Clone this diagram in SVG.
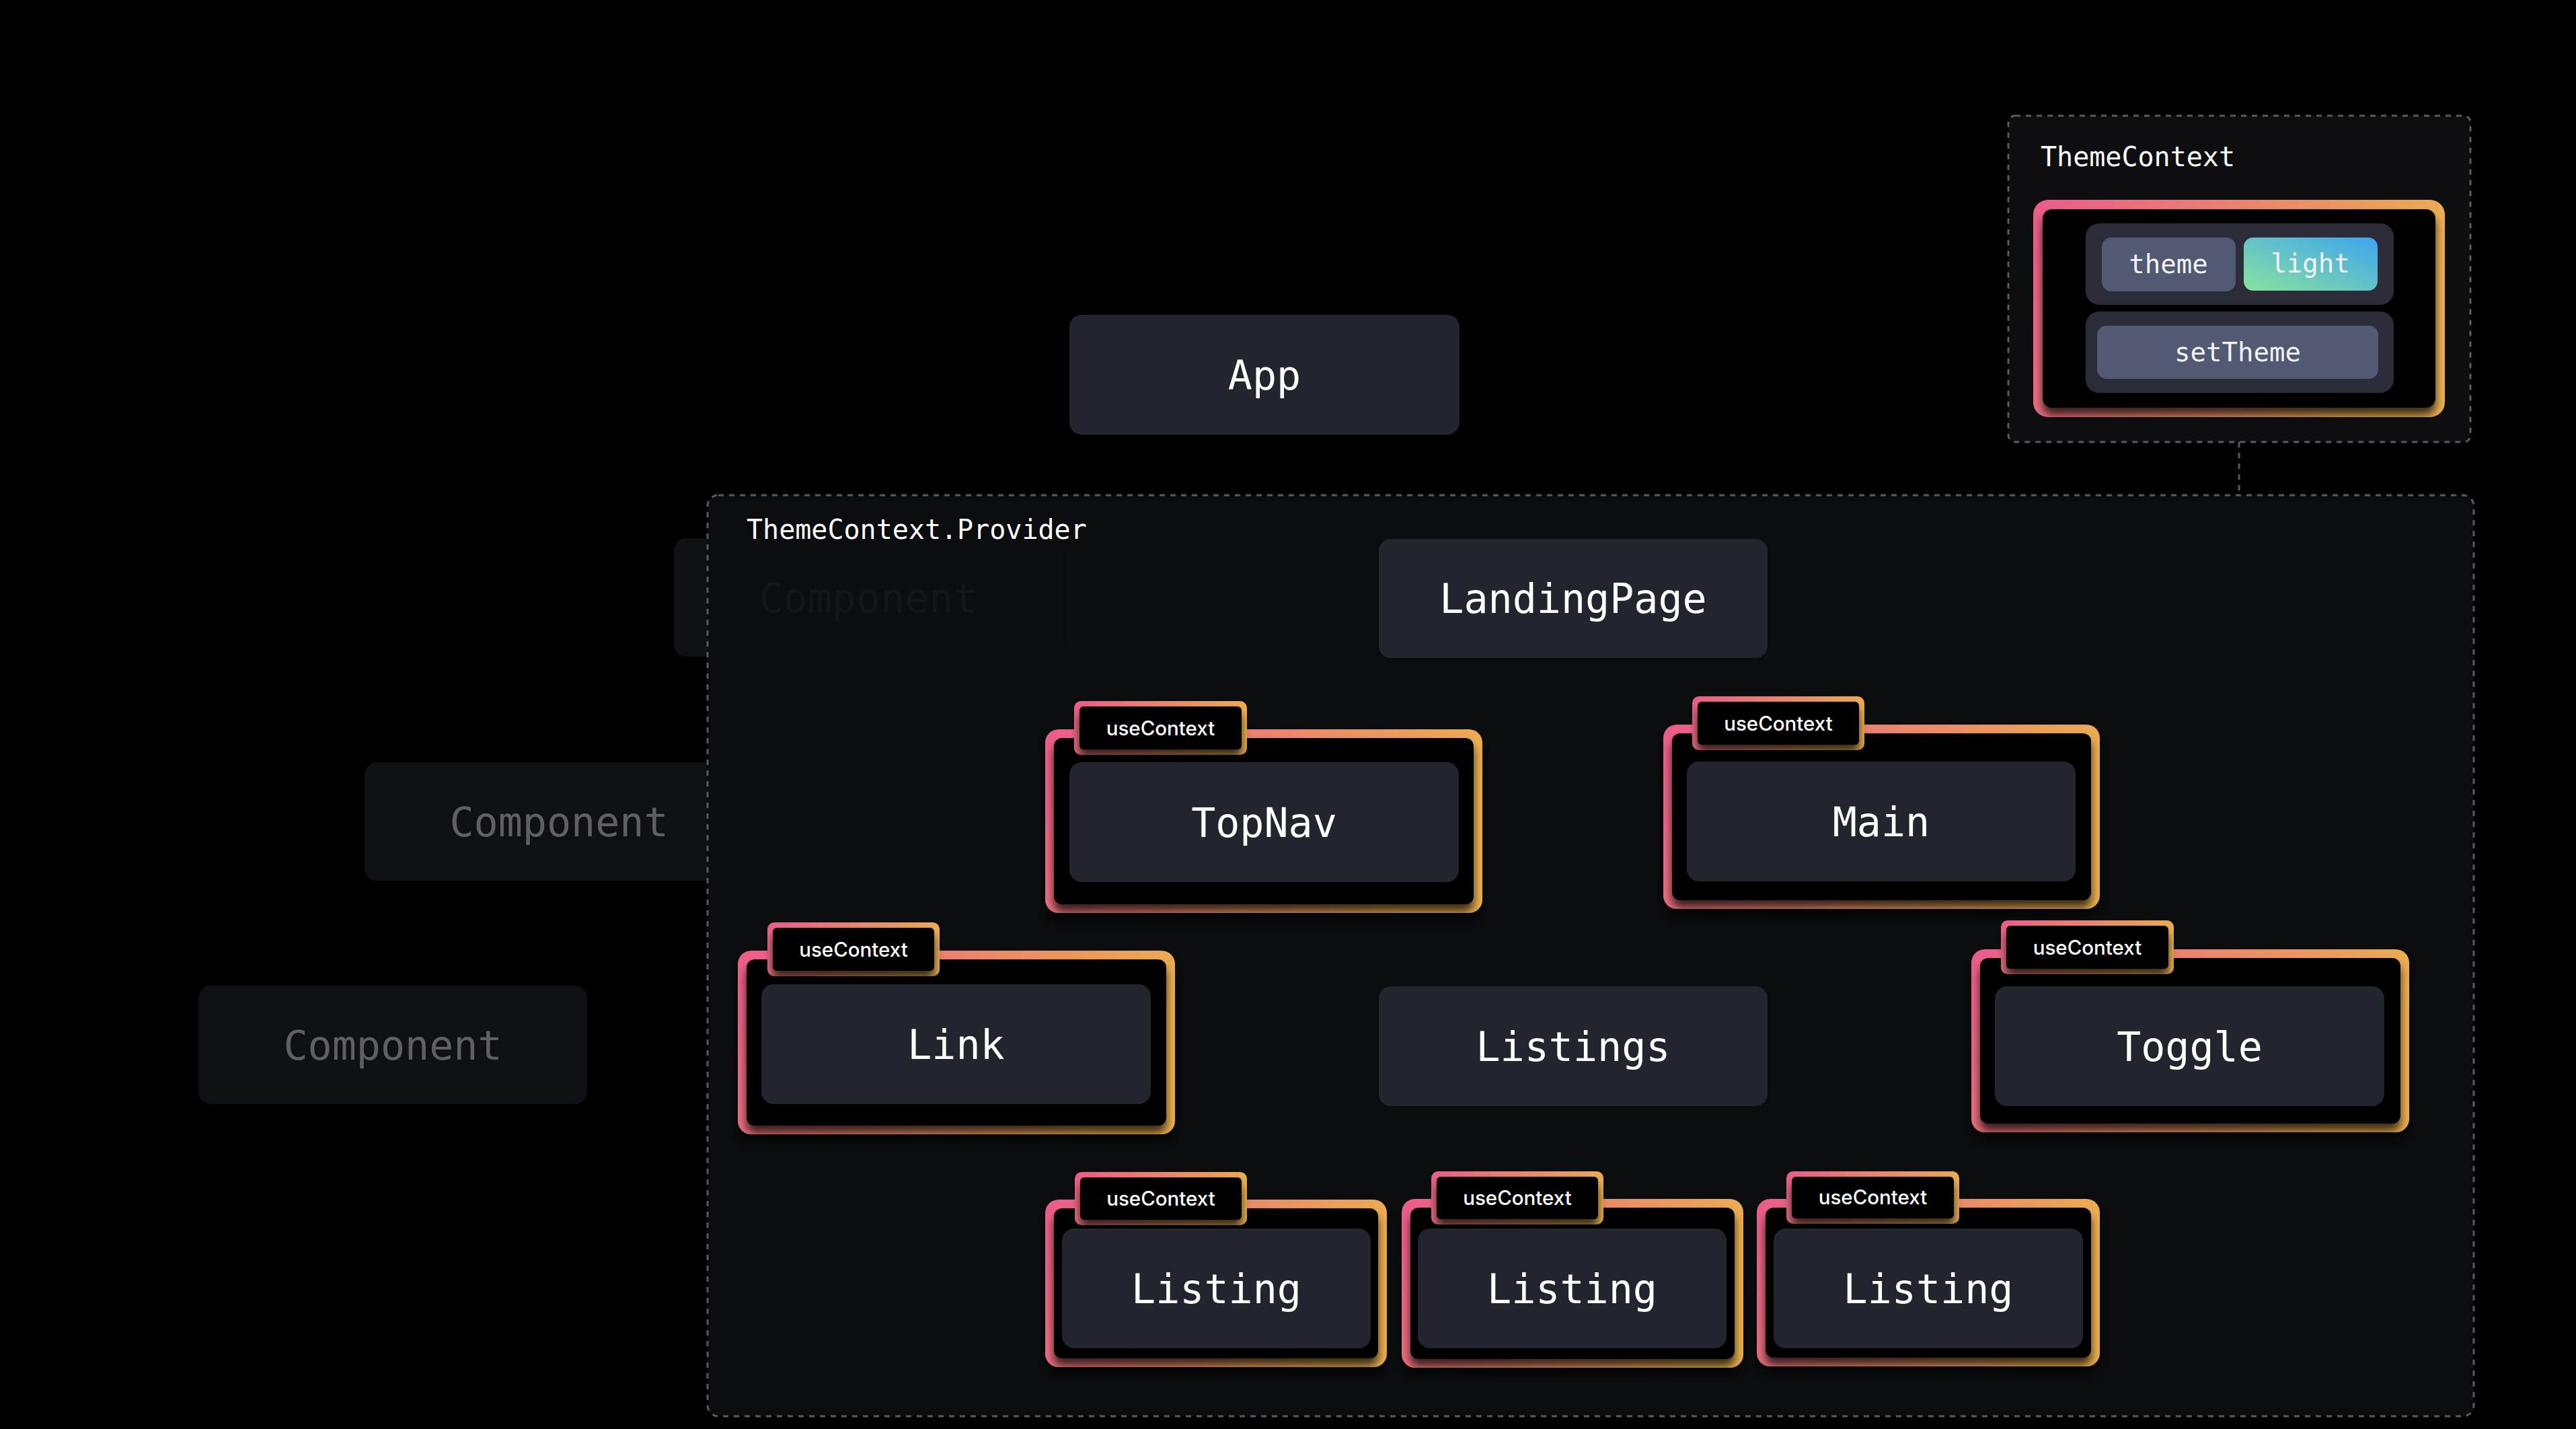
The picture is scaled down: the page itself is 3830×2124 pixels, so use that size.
<svg xmlns="http://www.w3.org/2000/svg" width="3830" height="2124" viewBox="0 0 3830 2124">
<defs>
<linearGradient id="gr" x1="0" y1="0" x2="1" y2="0.25">
<stop offset="0" stop-color="#ec5b8c"/>
<stop offset="1" stop-color="#ebb04e"/>
</linearGradient>
<linearGradient id="lg" x1="0" y1="1" x2="1" y2="0">
<stop offset="0" stop-color="#88e39c"/>
<stop offset="1" stop-color="#3fa4f0"/>
</linearGradient>
<filter id="ish" x="-10%" y="-10%" width="120%" height="140%">
<feDropShadow dx="0" dy="11" stdDeviation="7" flood-color="#000" flood-opacity="0.75"/>
</filter>
<filter id="osh" x="-10%" y="-10%" width="120%" height="130%">
<feDropShadow dx="0" dy="12" stdDeviation="8" flood-color="#000" flood-opacity="0.6"/>
</filter>
<style>
.node{fill:#23252e}
.lbl{font-family:"DejaVu Sans Mono",monospace;font-size:60px;fill:#ffffff;text-anchor:middle}
.comp{fill:#0f1013}
.ctext{font-family:"DejaVu Sans Mono",monospace;font-size:60px;fill:#606064;text-anchor:middle}
.fr{fill:url(#gr);filter:url(#osh)}
.frin{fill:#000;filter:url(#ish)}
.tb{fill:url(#gr)}
.tbin{fill:#000;filter:url(#ish)}
.tt{font-family:Inter,"Liberation Sans",sans-serif;font-size:29.5px;font-weight:500;fill:#ffffff;text-anchor:middle}
.dash{fill:none;stroke:#5a5a5e;stroke-width:3;stroke-dasharray:8 8}
.title{font-family:"DejaVu Sans Mono",monospace;font-size:40px;fill:#ffffff}
.pill{fill:#525a73}
.row{fill:#2a2c38}
.ptext{font-family:"DejaVu Sans Mono",monospace;font-size:39px;fill:#f4f4f6;text-anchor:middle}
</style>
</defs>
<rect x="0" y="0" width="3830" height="2124" fill="#000"/>

<g id="component-1">
<rect class="comp" x="1002" y="800" width="578" height="176" rx="18"/>
<text class="ctext" x="1291" y="910">Component</text>
</g>
<g id="component-2">
<rect class="comp" x="542" y="1133" width="578" height="176" rx="18"/>
<text class="ctext" x="831" y="1243">Component</text>
</g>
<g id="component-3">
<rect class="comp" x="295" y="1465" width="578" height="176" rx="18"/>
<text class="ctext" x="584" y="1575">Component</text>
</g>

<g id="app">
<rect class="node" x="1590" y="468" width="580" height="178" rx="18"/>
<text class="lbl" x="1880" y="579">App</text>
</g>

<g id="provider">
<rect x="1052" y="736" width="2626" height="1369" rx="16" fill="#0c0d10" fill-opacity="0.9"/>
<rect class="dash" x="1052" y="736" width="2626" height="1369" rx="16"/>
<text class="title" x="1110" y="801">ThemeContext.Provider</text>
</g>

<g id="themecontext">
<rect x="2986" y="172" width="687" height="485" rx="10" fill="#0e0e11"/>
<rect class="dash" x="2986" y="172" width="687" height="485" rx="10"/>
<text class="title" x="3034" y="247">ThemeContext</text>
<rect x="3023" y="297" width="612" height="323" rx="22" fill="url(#gr)"/>
<rect class="frin" x="3037" y="311" width="584" height="295" rx="14"/>
<rect class="row" x="3101" y="332" width="458" height="121" rx="20"/>
<rect class="row" x="3101" y="463" width="458" height="121" rx="20"/>
<rect class="pill" x="3125" y="353" width="199" height="80" rx="14"/>
<text class="ptext" x="3224" y="406">theme</text>
<rect x="3336" y="353" width="199" height="79" rx="14" fill="url(#lg)"/>
<text class="ptext" x="3435" y="405">light</text>
<rect class="pill" x="3118" y="484" width="418" height="79" rx="14"/>
<text class="ptext" x="3327" y="537">setTheme</text>
</g>

<g id="connectors">
<line class="dash" x1="3329" y1="657" x2="3329" y2="736"/>
</g>

<g id="landingpage">
<rect class="node" x="2050" y="801" width="578" height="177" rx="18"/>
<text class="lbl" x="2339" y="911">LandingPage</text>
</g>

<g id="topnav">
<rect class="fr" x="1554" y="1084" width="650" height="273" rx="20"/>
<rect class="frin" x="1567" y="1097" width="624" height="247" rx="12"/>
<rect class="tb" x="1597" y="1042" width="257" height="80" rx="10"/>
<rect class="tbin" x="1605" y="1050" width="241" height="64" rx="6"/>
<text class="tt" x="1725.5" y="1093">useContext</text>
<rect class="node" x="1590" y="1133" width="579" height="178" rx="18"/>
<text class="lbl" x="1879.5" y="1244">TopNav</text>
</g>

<g id="main">
<rect class="fr" x="2473" y="1077" width="649" height="274" rx="20"/>
<rect class="frin" x="2486" y="1090" width="623" height="248" rx="12"/>
<rect class="tb" x="2516" y="1035" width="256" height="80" rx="10"/>
<rect class="tbin" x="2524" y="1043" width="240" height="64" rx="6"/>
<text class="tt" x="2644" y="1086">useContext</text>
<rect class="node" x="2508" y="1132" width="578" height="178" rx="18"/>
<text class="lbl" x="2797" y="1243">Main</text>
</g>

<g id="link">
<rect class="fr" x="1097" y="1413" width="650" height="273" rx="20"/>
<rect class="frin" x="1110" y="1426" width="624" height="247" rx="12"/>
<rect class="tb" x="1141" y="1371" width="256" height="80" rx="10"/>
<rect class="tbin" x="1149" y="1379" width="240" height="64" rx="6"/>
<text class="tt" x="1269" y="1422">useContext</text>
<rect class="node" x="1132" y="1463" width="579" height="178" rx="18"/>
<text class="lbl" x="1421.5" y="1574">Link</text>
</g>

<g id="listings">
<rect class="node" x="2050" y="1466" width="578" height="178" rx="18"/>
<text class="lbl" x="2339" y="1577">Listings</text>
</g>

<g id="toggle">
<rect class="fr" x="2931" y="1411" width="651" height="272" rx="20"/>
<rect class="frin" x="2944" y="1424" width="625" height="246" rx="12"/>
<rect class="tb" x="2975" y="1368" width="257" height="80" rx="10"/>
<rect class="tbin" x="2983" y="1376" width="241" height="64" rx="6"/>
<text class="tt" x="3103.5" y="1419">useContext</text>
<rect class="node" x="2966" y="1466" width="579" height="178" rx="18"/>
<text class="lbl" x="3255.5" y="1577">Toggle</text>
</g>

<g id="listing-1">
<rect class="fr" x="1554" y="1783" width="508" height="249" rx="20"/>
<rect class="frin" x="1567" y="1796" width="482" height="223" rx="12"/>
<rect class="tb" x="1598" y="1742" width="256" height="79" rx="10"/>
<rect class="tbin" x="1606" y="1750" width="240" height="63" rx="6"/>
<text class="tt" x="1726" y="1792">useContext</text>
<rect class="node" x="1579" y="1826" width="459" height="178" rx="18"/>
<text class="lbl" x="1808.5" y="1937">Listing</text>
</g>

<g id="listing-2">
<rect class="fr" x="2084" y="1782" width="508" height="251" rx="20"/>
<rect class="frin" x="2097" y="1795" width="482" height="225" rx="12"/>
<rect class="tb" x="2128" y="1741" width="256" height="79" rx="10"/>
<rect class="tbin" x="2136" y="1749" width="240" height="63" rx="6"/>
<text class="tt" x="2256" y="1791">useContext</text>
<rect class="node" x="2108" y="1826" width="459" height="178" rx="18"/>
<text class="lbl" x="2337.5" y="1937">Listing</text>
</g>

<g id="listing-3">
<rect class="fr" x="2612" y="1782" width="510" height="249" rx="20"/>
<rect class="frin" x="2625" y="1795" width="484" height="223" rx="12"/>
<rect class="tb" x="2656" y="1741" width="257" height="78" rx="10"/>
<rect class="tbin" x="2664" y="1749" width="241" height="62" rx="6"/>
<text class="tt" x="2784.5" y="1790">useContext</text>
<rect class="node" x="2637" y="1826" width="460" height="178" rx="18"/>
<text class="lbl" x="2867" y="1937">Listing</text>
</g>
</svg>
